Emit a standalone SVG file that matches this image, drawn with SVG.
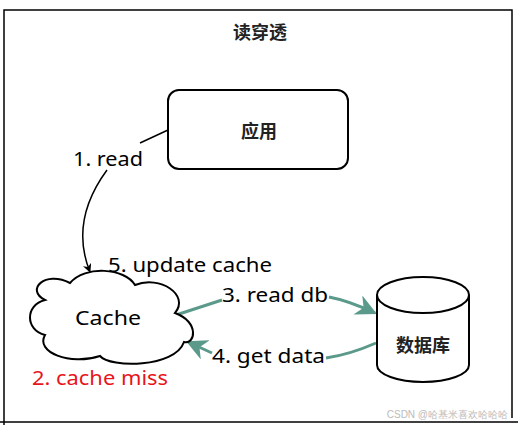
<svg xmlns="http://www.w3.org/2000/svg" width="518" height="425" viewBox="0 0 518 425">
<defs>
<style>
.frame{fill:none;stroke:#000;stroke-width:1.5}
.shape{fill:#fff;stroke:#000;stroke-width:2}
.cn{font-family:"Noto Sans CJK SC","Noto Sans",sans-serif;font-size:18px;font-weight:bold;fill:#222;text-anchor:middle}
.lbl{font-family:"Noto Sans","Liberation Sans",sans-serif;font-size:20px;fill:#000}
.blk{fill:none;stroke:#000;stroke-width:1.5}
.teal{fill:none;stroke:#5b9a8b;stroke-width:3}
</style>
<marker id="ab" viewBox="0 0 10 10" refX="9" refY="5" markerWidth="9" markerHeight="9" markerUnits="userSpaceOnUse" orient="auto"><path d="M0,0 L10,5 L0,10 L3,5 Z" fill="#000"/></marker>
<marker id="at" viewBox="0 0 10 10" refX="9" refY="5" markerWidth="7" markerHeight="7" orient="auto"><path d="M0,0 L10,5 L0,10 L3,5 Z" fill="#5b9a8b"/></marker>
</defs>
<rect width="518" height="425" fill="#fff"/>
<path class="frame" d="M4,425 V10 H512 V418 M0,422 H518"/>
<text class="cn" x="260" y="39">读穿透</text>
<g id="connectors">
<path class="blk" d="M168,130 L140,143"/>
<path class="blk" d="M107,170 C85,200 75,235 90,272" marker-end="url(#ab)"/>
<path class="teal" d="M176,315 L222,300"/>
<path class="teal" d="M329,297 C345,300 360,306 375,313" marker-end="url(#at)"/>
<path class="teal" d="M376,343 C360,350 340,356 326,358"/>
<path class="teal" d="M212,353 L188,342" marker-end="url(#at)"/>
<text class="lbl" x="73" y="166" textLength="70" lengthAdjust="spacingAndGlyphs">1. read</text>
<text class="lbl" x="108" y="272" textLength="164" lengthAdjust="spacingAndGlyphs">5. update cache</text>
<text class="lbl" x="222" y="302" textLength="106" lengthAdjust="spacingAndGlyphs">3. read db</text>
<text class="lbl" x="212" y="363" textLength="113" lengthAdjust="spacingAndGlyphs">4. get data</text>
<text class="lbl" x="32" y="385" textLength="136" lengthAdjust="spacingAndGlyphs" style="fill:#e8141a">2. cache miss</text>
</g>
<g id="app">
<rect class="shape" x="168" y="90" width="180" height="79" rx="11"/>
<text class="cn" x="259" y="138">应用</text>
</g>
<g id="cache">
<path class="shape" d="M45,300 C25,290 45,270 70,283 C85,265 125,268 135,285 C160,275 190,295 175,313 C200,322 195,345 184,342 C175,368 110,368 100,356 C70,366 35,352 45,335 C25,330 25,305 45,300 Z"/>
<text class="lbl" x="75" y="325" textLength="66" lengthAdjust="spacingAndGlyphs">Cache</text>
</g>
<g id="db">
<path class="shape" d="M377,295 V365 A46,17 0 0 0 469,365 V295"/>
<ellipse class="shape" cx="423" cy="295" rx="46" ry="18"/>
<text class="cn" x="423" y="352">数据库</text>
</g>
<text x="508" y="418" font-family="Liberation Sans,sans-serif" font-size="10" fill="#bbb" text-anchor="end">CSDN @哈基米喜欢哈哈哈</text>
</svg>
